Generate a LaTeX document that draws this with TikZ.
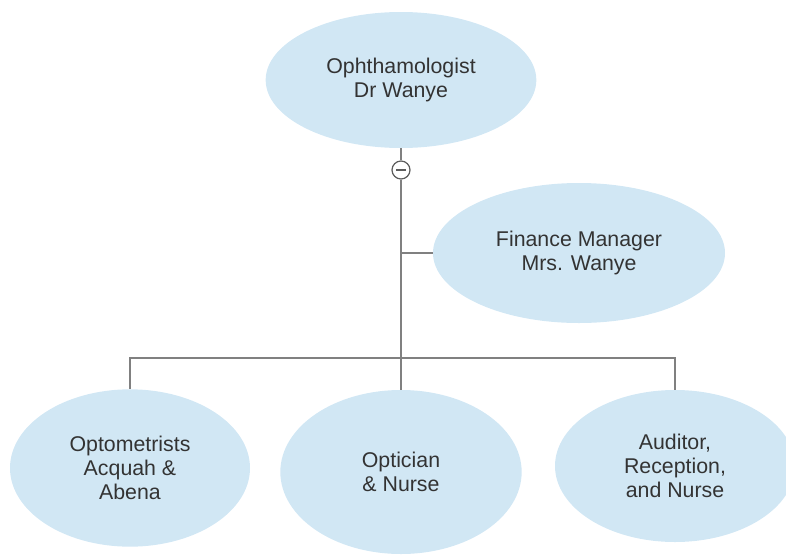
\documentclass[tikz,border=0pt]{standalone}
\usepackage{fontspec}
\setmainfont{Liberation Sans}
\usetikzlibrary{shapes,positioning}
\definecolor{bubble}{RGB}{209,231,244}
\definecolor{wire}{RGB}{128,128,128}
\definecolor{ink}{RGB}{51,51,51}

\begin{document}
\begin{tikzpicture}[x=0.75pt, y=-0.75pt, every node/.style={font=\fontsize{16}{18}\selectfont, text=ink}]
  \tikzset{
    role/.style={ellipse, fill=bubble, draw=none, inner sep=0pt, align=center},
    link/.style={draw=wire, line width=1.5pt},
    fold/.style={circle, draw=ink!80, fill=white, line width=0.9pt, minimum size=13.5pt, inner sep=0pt}
  }
  \clip (0,0) rectangle (786,554);

  % Head of the practice
  \node[role, minimum width=203pt, minimum height=102pt] (boss) at (401,80) {Ophthamologist\\Dr Wanye};
  \node[fold] (toggle) at (401,170) {};
  \draw[ink!80, line width=0.9pt] ([xshift=-3.5pt]toggle.center) -- ([xshift=3.5pt]toggle.center);

  % Assistant branch
  \node[role, minimum width=219pt, minimum height=105pt] (finance) at (579,253) {Finance Manager\\Mrs. Wanye};

  % Staff
  \node[role, minimum width=180pt, minimum height=118pt] (optom) at (130,468) {Optometrists\\Acquah \&\\Abena};
  \node[role, minimum width=181pt, minimum height=123pt] (optic) at (401,472) {Optician\\\& Nurse};
  \node[role, minimum width=180pt, minimum height=114pt] (audit) at (675,466) {Auditor,\\Reception,\\and Nurse};

  % Connectors
  \coordinate (side) at (401,253);
  \coordinate (split) at (401,358);
  \draw[link] (boss.south) -- (toggle.north);
  \draw[link] (toggle.south) -- (split);
  \draw[link] (side) -- (finance.west);
  \draw[link] (split) -| (optom.north);
  \draw[link] (split) -- (optic.north);
  \draw[link] (split) -| (audit.north);
\end{tikzpicture}
\end{document}
